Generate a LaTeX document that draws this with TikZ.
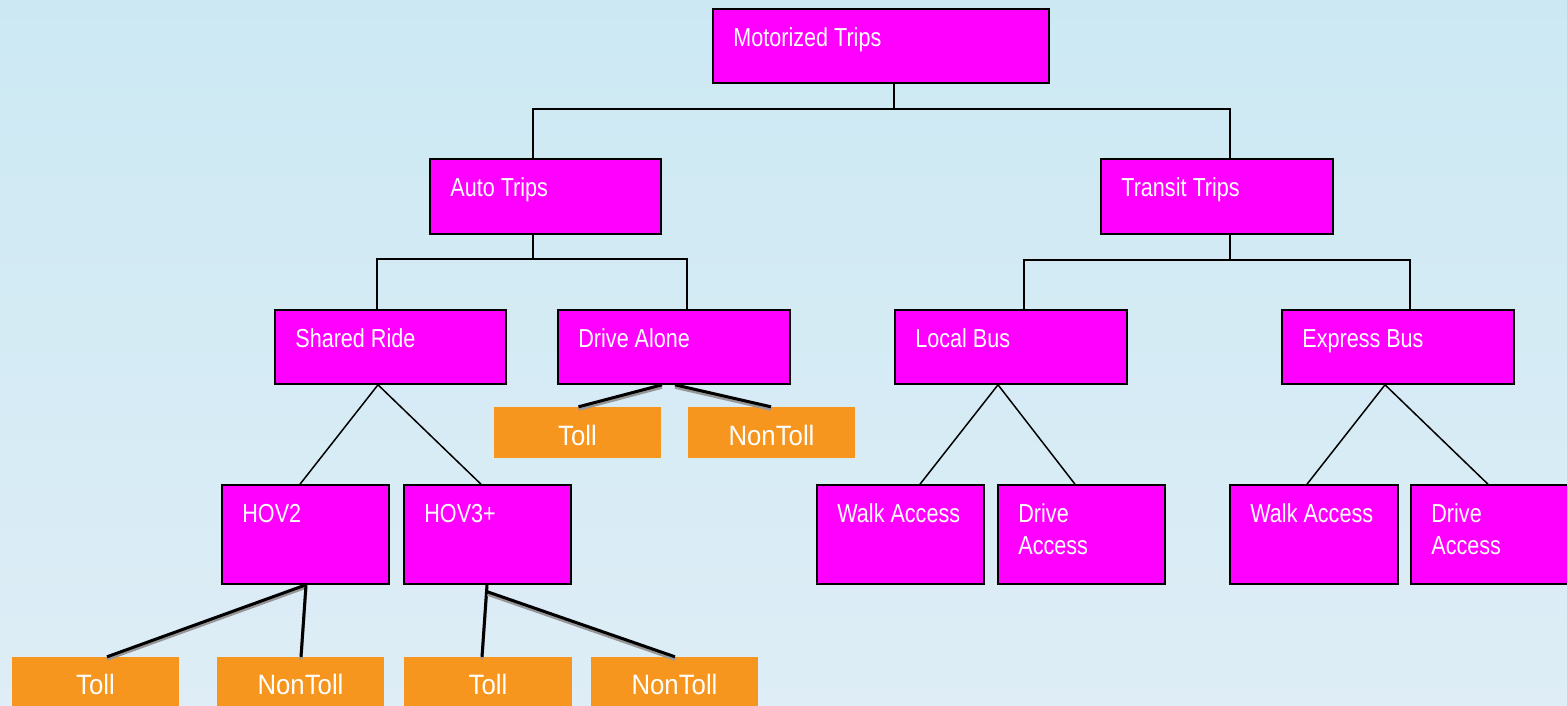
\documentclass[tikz,border=0pt]{standalone}
\usepackage{fontspec}
\setmainfont{Liberation Sans}
\newfontfamily\boxfont{Liberation Sans}[FakeStretch=0.83]
\newfontfamily\tollfont{Liberation Sans}[FakeStretch=0.92]

\definecolor{bgtop}{RGB}{204,233,243}
\definecolor{bgbot}{RGB}{222,237,246}
\definecolor{tripmag}{RGB}{255,0,255}
\definecolor{tollorange}{RGB}{247,150,30}
\definecolor{shadowgray}{RGB}{150,150,150}

% rectangle node from its pixel corners: name, x1, y1, x2, y2, style
\newcommand\cornerbox[6]{%
  \node[#6, minimum width={(#4-#2)*1pt}, minimum height={(#5-#3)*1pt}]
    (#1) at ({(#2+#4)/2},{(#3+#5)/2}) {};}
% label text in the upper left corner of a magenta box
\newcommand\boxlabel[2]{%
  \node[triplabel] (#1-t) at ([xshift=21,yshift=-38]#1.north west) {#2};}
\newcommand\twolines[2]{\begin{tabular}[t]{@{}l@{}}#1\\#2\end{tabular}}
% heavy connector with its grey drop shadow
\newcommand\tollline[2]{%
  \draw[tollshadow] ([yshift=-2.5]#1) -- ([yshift=-2.5]#2);
  \draw[tollconn] (#1) -- (#2);}

\begin{document}
\begin{tikzpicture}[x=1pt, y=-1pt,
  tripbox/.style={draw=black, line width=1.6pt, fill=tripmag, inner sep=0pt},
  tollbox/.style={fill=tollorange, draw=none, inner sep=0pt, text=white,
    font=\tollfont\fontsize{28}{32}\selectfont},
  triplabel/.style={anchor=base west, inner sep=0pt, text=white,
    font=\boxfont\fontsize{26}{32}\selectfont},
  conn/.style={line width=1.5pt, line join=miter},
  tollconn/.style={line width=3pt, black},
  tollshadow/.style={line width=3pt, shadowgray},
]
\useasboundingbox (0,0) rectangle (1567,705);
\clip (0,0) rectangle (1567,705);
\shade[top color=bgtop, bottom color=bgbot] (0,0) rectangle (1567,705);

% magenta category boxes
\cornerbox{motor}{713}{9}{1049}{83}{tripbox}
\cornerbox{auto}{430}{159}{661}{234}{tripbox}
\cornerbox{transit}{1101}{159}{1333}{234}{tripbox}
\cornerbox{shared}{275}{310}{506}{384}{tripbox}
\cornerbox{alone}{558}{310}{790}{384}{tripbox}
\cornerbox{local}{895}{310}{1127}{384}{tripbox}
\cornerbox{express}{1282}{310}{1514}{384}{tripbox}
\cornerbox{hovtwo}{222}{485}{389}{584}{tripbox}
\cornerbox{hovthree}{404}{485}{571}{584}{tripbox}
\cornerbox{walkA}{817}{485}{984}{584}{tripbox}
\cornerbox{driveA}{998}{485}{1165}{584}{tripbox}
\cornerbox{walkB}{1230}{485}{1398}{584}{tripbox}
\cornerbox{driveB}{1411}{485}{1578}{584}{tripbox}

\boxlabel{motor}{Motorized Trips}
\boxlabel{auto}{Auto Trips}
\boxlabel{transit}{Transit Trips}
\boxlabel{shared}{Shared Ride}
\boxlabel{alone}{Drive Alone}
\boxlabel{local}{Local Bus}
\boxlabel{express}{Express Bus}
\boxlabel{hovtwo}{HOV2}
\boxlabel{hovthree}{HOV3+}
\boxlabel{walkA}{Walk Access}
\boxlabel{driveA}{\twolines{Drive}{Access}}
\boxlabel{walkB}{Walk Access}
\boxlabel{driveB}{\twolines{Drive}{Access}}

% orange toll choice boxes
\cornerbox{tollA}{494}{407}{661}{458}{tollbox}
\cornerbox{ntollA}{688}{407}{855}{458}{tollbox}
\cornerbox{tollB}{12}{657}{179}{708}{tollbox}
\cornerbox{ntollB}{217}{657}{384}{708}{tollbox}
\cornerbox{tollC}{404}{657}{572}{708}{tollbox}
\cornerbox{ntollC}{591}{657}{758}{708}{tollbox}
\node[tollbox] (tollA-t) at ([yshift=-2.5]tollA) {Toll};
\node[tollbox] (ntollA-t) at ([yshift=-2.5]ntollA) {NonToll};
\node[tollbox] (tollB-t) at ([yshift=-1.5]tollB) {Toll};
\node[tollbox] (ntollB-t) at ([yshift=-1.5]ntollB) {NonToll};
\node[tollbox] (tollC-t) at ([yshift=-1.5]tollC) {Toll};
\node[tollbox] (ntollC-t) at ([yshift=-1.5]ntollC) {NonToll};

% tree connectors
\draw[conn] ([xshift=13]motor.south) -- ++(0,25) coordinate (mbar);
\draw[conn] (mbar) -| ([xshift=-12.5]auto.north);
\draw[conn] (mbar) -| ([xshift=13]transit.north);
\draw[conn] ([xshift=-12.5]auto.south) -- ++(0,24) coordinate (abar);
\draw[conn] (abar) -| ([xshift=-13.5]shared.north);
\draw[conn] (abar) -| ([xshift=13]alone.north);
\draw[conn] ([xshift=13]transit.south) -- ++(0,25) coordinate (tbar);
\draw[conn] (tbar) -| ([xshift=13]local.north);
\draw[conn] (tbar) -| ([xshift=12]express.north);

\draw[conn] ([xshift=-12.5]shared.south) -- ([xshift=-5.5]hovtwo.north);
\draw[conn] ([xshift=-12.5]shared.south) -- ([xshift=-6.5]hovthree.north);
\draw[conn] ([xshift=-13]local.south) -- ([xshift=19.5]walkA.north);
\draw[conn] ([xshift=-13]local.south) -- ([xshift=-6.5]driveA.north);
\draw[conn] ([xshift=-13]express.south) -- ([xshift=-7]walkB.north);
\draw[conn] ([xshift=-13]express.south) -- ([xshift=-6.5]driveB.north);

% toll / non-toll connectors
\coordinate (aloneL) at ([xshift=-12]alone.south);
\coordinate (aloneR) at ([xshift=1]alone.south);
\coordinate (hovtwoB) at ([xshift=0.5]hovtwo.south);
\coordinate (hovthreeB) at ([xshift=-0.5]hovthree.south);
\coordinate (hovthreeK) at ([yshift=-7]hovthree.south);
\coordinate (tollAin) at ([xshift=1]tollA.north);
\coordinate (ntollAin) at ([xshift=-0.5]ntollA.north);
\coordinate (tollBin) at ([xshift=11.5]tollB.north);
\coordinate (ntollBin) at ([xshift=0.5]ntollB.north);
\coordinate (tollCin) at ([xshift=-6]tollC.north);
\coordinate (ntollCin) at ([xshift=0.5]ntollC.north);
\tollline{aloneL}{tollAin}
\tollline{aloneR}{ntollAin}
\tollline{hovtwoB}{tollBin}
\tollline{hovtwoB}{ntollBin}
\tollline{hovthreeB}{tollCin}
\tollline{hovthreeK}{ntollCin}
\end{tikzpicture}
\end{document}
